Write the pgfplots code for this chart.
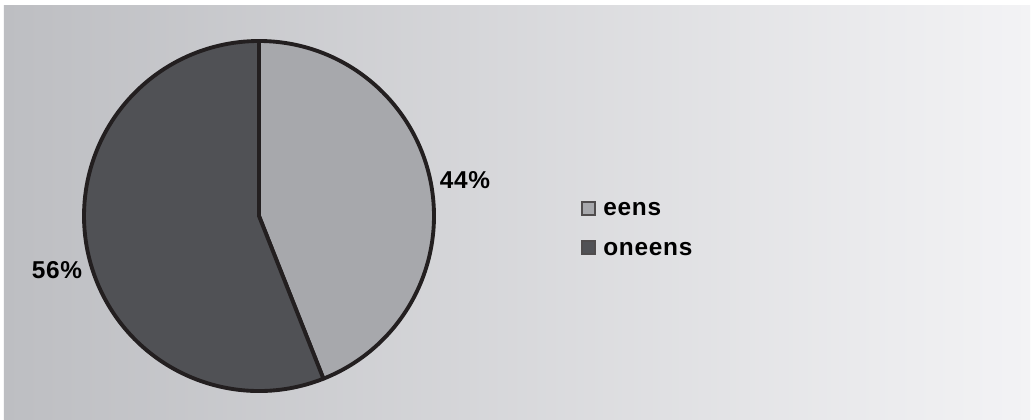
\documentclass[border=0pt]{standalone}
\usepackage{fontspec}
\setmainfont{Liberation Sans}
\newfontfamily\lbl[LetterSpace=3]{Liberation Sans}
\usepackage{pgfplots}
\usepackage{pgfplotstable}
\pgfplotsset{compat=1.18}

\definecolor{bgL}{RGB}{189,190,194}
\definecolor{bgR}{RGB}{243,243,245}
\definecolor{sliceA}{RGB}{167,168,172}
\definecolor{sliceB}{RGB}{80,81,85}
\definecolor{rim}{RGB}{35,31,32}

% share of answers
\pgfplotstableread{
label value
eens 44
oneens 56
}\piedata

\begin{document}
\begin{tikzpicture}
\pgfplotstablegetelem{0}{value}\of\piedata \let\va\pgfplotsretval
\pgfplotstablegetelem{1}{value}\of\piedata \let\vb\pgfplotsretval
\pgfmathsetmacro\aA{90-3.6*\va}
\pgfmathsetmacro\aB{\aA-3.6*\vb}
\def\R{131.25pt}
\tikzset{lab/.style={font=\lbl\bfseries\fontsize{18.3}{21}\selectfont}}
\begin{axis}[
    x=0.75pt, y=0.75pt,
    xmin=0, xmax=1032, ymin=0, ymax=420,
    scale only axis,
    hide axis,
    clip=false,
  ]
  \coordinate (ll) at (axis cs:0,0);
  \coordinate (ur) at (axis cs:1032,420);
  \fill[white] (ll) rectangle (ur);
  % background
  \path[left color=bgL, right color=bgR] (axis cs:4,0) rectangle (axis cs:1030,414);

  % slices
  \filldraw[fill=sliceA, draw=rim, line width=2.9pt, line join=round]
    (axis cs:259,204) -- ++(90:\R) arc[start angle=90, end angle=\aA, radius=\R] -- cycle;
  \filldraw[fill=sliceB, draw=rim, line width=2.9pt, line join=round]
    (axis cs:259,204) -- ++(\aA:\R) arc[start angle=\aA, end angle=\aB, radius=\R] -- cycle;

  % percentage labels
  \node[lab] at (axis cs:465,240) {\va\%};
  \node[lab] at (axis cs:57,150) {\vb\%};

  % legend
  \draw[fill=sliceA, draw=rim!80, line width=0.8pt] (axis cs:582,205) rectangle (axis cs:595,218);
  \draw[fill=sliceB, draw=rim!80, line width=0.8pt] (axis cs:582,166) rectangle (axis cs:595,179);
  \node[lab, anchor=base west, inner sep=0pt] at (axis cs:603,204) {eens};
  \node[lab, anchor=base west, inner sep=0pt] at (axis cs:603,164) {oneens};
\end{axis}
\pgfresetboundingbox
\path[use as bounding box] (ll) rectangle (ur);
\end{tikzpicture}
\end{document}
